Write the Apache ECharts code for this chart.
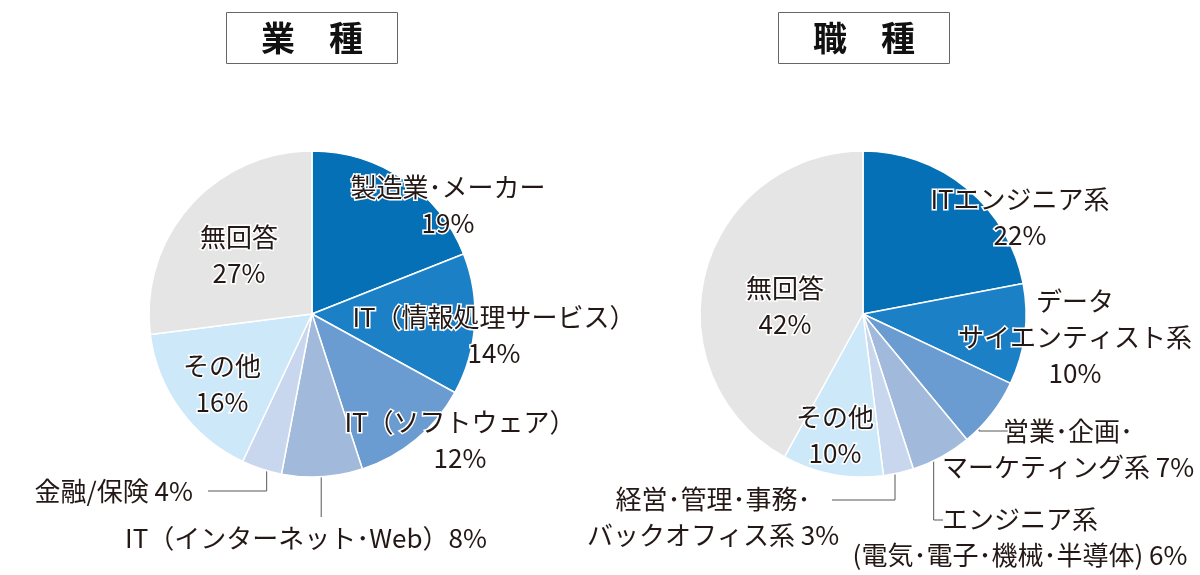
<!DOCTYPE html>
<html><head><meta charset="utf-8">
<script src="https://cdn.jsdelivr.net/npm/echarts@6/dist/echarts.min.js"></script>
<style>html,body{margin:0;padding:0;background:#fff}#c{width:1200px;height:575px}</style>
</head><body><div id="c"></div>
<script>
// ---- data ----
const indTitle = '業　種';
const indCategories = ['製造業・メーカー', 'IT（情報処理サービス）', 'IT（ソフトウェア）', 'IT（インターネット・Web）', '金融/保険', 'その他', '無回答'];
const indValues = [19, 14, 12, 8, 4, 16, 27];

const jobTitle = '職　種';
const jobCategories = ['ITエンジニア系', 'データ\nサイエンティスト系', '営業・企画・\nマーケティング系', 'エンジニア系\n(電気・電子・機械・半導体)', '経営・管理・事務・\nバックオフィス系', 'その他', '無回答'];
const jobValues = [22, 10, 7, 6, 3, 10, 42];

// ---- styling / layout ----
const colors = ['#0570B6', '#1C80C6', '#6A9BD1', '#A1BADB', '#C9D7EE', '#CCE8F9', '#E5E5E5'];
const R = 163;
const indCenter = [312, 314];
const jobCenter = [863, 314];
// label placement: x,y centre of the text block; sep between name and value; lead = leader line bend/end
const indLayout = [
  {x: 448, y: 205, sep: '\n'},
  {x: 494, y: 335, sep: '\n'},
  {x: 460, y: 440, sep: '\n'},
  {x: 306, y: 538, sep: '', lead: {by: 517}},
  {x: 193, y: 491, sep: ' ', align: 'right', lead: {by: 491, ex: 208}},
  {x: 222, y: 384, sep: '\n'},
  {x: 239, y: 255, sep: '\n'}
];
const jobLayout = [
  {x: 1020, y: 217, sep: '\n'},
  {x: 1075, y: 337, sep: '\n'},
  {x: 1068, y: 449, sep: ' ', lead: {by: 431, ex: 1010}},
  {x: 1020, y: 537, sep: ' ', lead: {by: 520, ex: 943}},
  {x: 713, y: 517, sep: ' ', lead: {by: 500, ex: 832}},
  {x: 835, y: 435, sep: '\n'},
  {x: 785, y: 306, sep: '\n'}
];

function leaderStart(values, idx, center) {
  const total = values.reduce((a, b) => a + b, 0);
  let before = 0;
  for (let i = 0; i < idx; i++) before += values[i];
  const mid = (before + values[idx] / 2) / total * Math.PI * 2;
  const r = R * 0.9;
  return [center[0] + r * Math.sin(mid), center[1] - r * Math.cos(mid)];
}

// proportional (narrow) middle dot as in the reference typesetting
const narrowDot = (s) => s.replace(/・/g, '\uFF65');

const textBase = {
  color: '#231815', fontSize: 26, lineHeight: 36,
  fontFamily: '"Noto Sans CJK JP", "Noto Sans", sans-serif',
  textBorderColor: '#fff', textBorderWidth: 3
};

function makeSeries(cats, vals, layout, center) {
  return {
    type: 'pie', center: center, radius: R, startAngle: 90, clockwise: true,
    avoidLabelOverlap: false, animation: false, silent: true,
    emphasis: {disabled: true},
    itemStyle: {borderColor: '#fff', borderWidth: 1.5},
    data: cats.map((c, i) => ({
      name: c, value: vals[i],
      itemStyle: {color: colors[i]},
      label: Object.assign({
        show: true,
        position: layout[i].lead ? 'outside' : 'inside',
        align: layout[i].align || 'center',
        formatter: (p) => narrowDot(p.name) + layout[i].sep + p.value + '%'
      }, textBase),
      labelLine: {show: !!layout[i].lead, lineStyle: {color: '#595757', width: 1}, smooth: false}
    })),
    labelLayout: function (params) {
      const L = layout[params.dataIndex];
      const o = {x: L.x, y: L.y, align: L.align || 'center', verticalAlign: 'middle'};
      if (L.lead) {
        const s = leaderStart(vals, params.dataIndex, center);
        const pts = [s, [s[0], L.lead.by]];
        pts.push(L.lead.ex != null ? [L.lead.ex, L.lead.by] : [s[0], L.lead.by]);
        o.labelLinePoints = pts;
      }
      return o;
    }
  };
}

const titleStyle = {color: '#111', fontSize: 34, fontWeight: 'bold', lineHeight: 34,
  fontFamily: '"Noto Sans CJK JP", sans-serif'};

const chart = echarts.init(document.getElementById('c'), null, {renderer: 'canvas'});
chart.setOption({
  backgroundColor: '#fff',
  animation: false,
  title: [
    {text: indTitle, left: 226, top: 12, padding: [9, 35, 9, 35], borderColor: '#666', borderWidth: 1, textStyle: titleStyle},
    {text: jobTitle, left: 778, top: 12, padding: [9, 35, 9, 35], borderColor: '#666', borderWidth: 1, textStyle: titleStyle}
  ],
  series: [
    makeSeries(indCategories, indValues, indLayout, indCenter),
    makeSeries(jobCategories, jobValues, jobLayout, jobCenter)
  ]
});
</script>
</body></html>
